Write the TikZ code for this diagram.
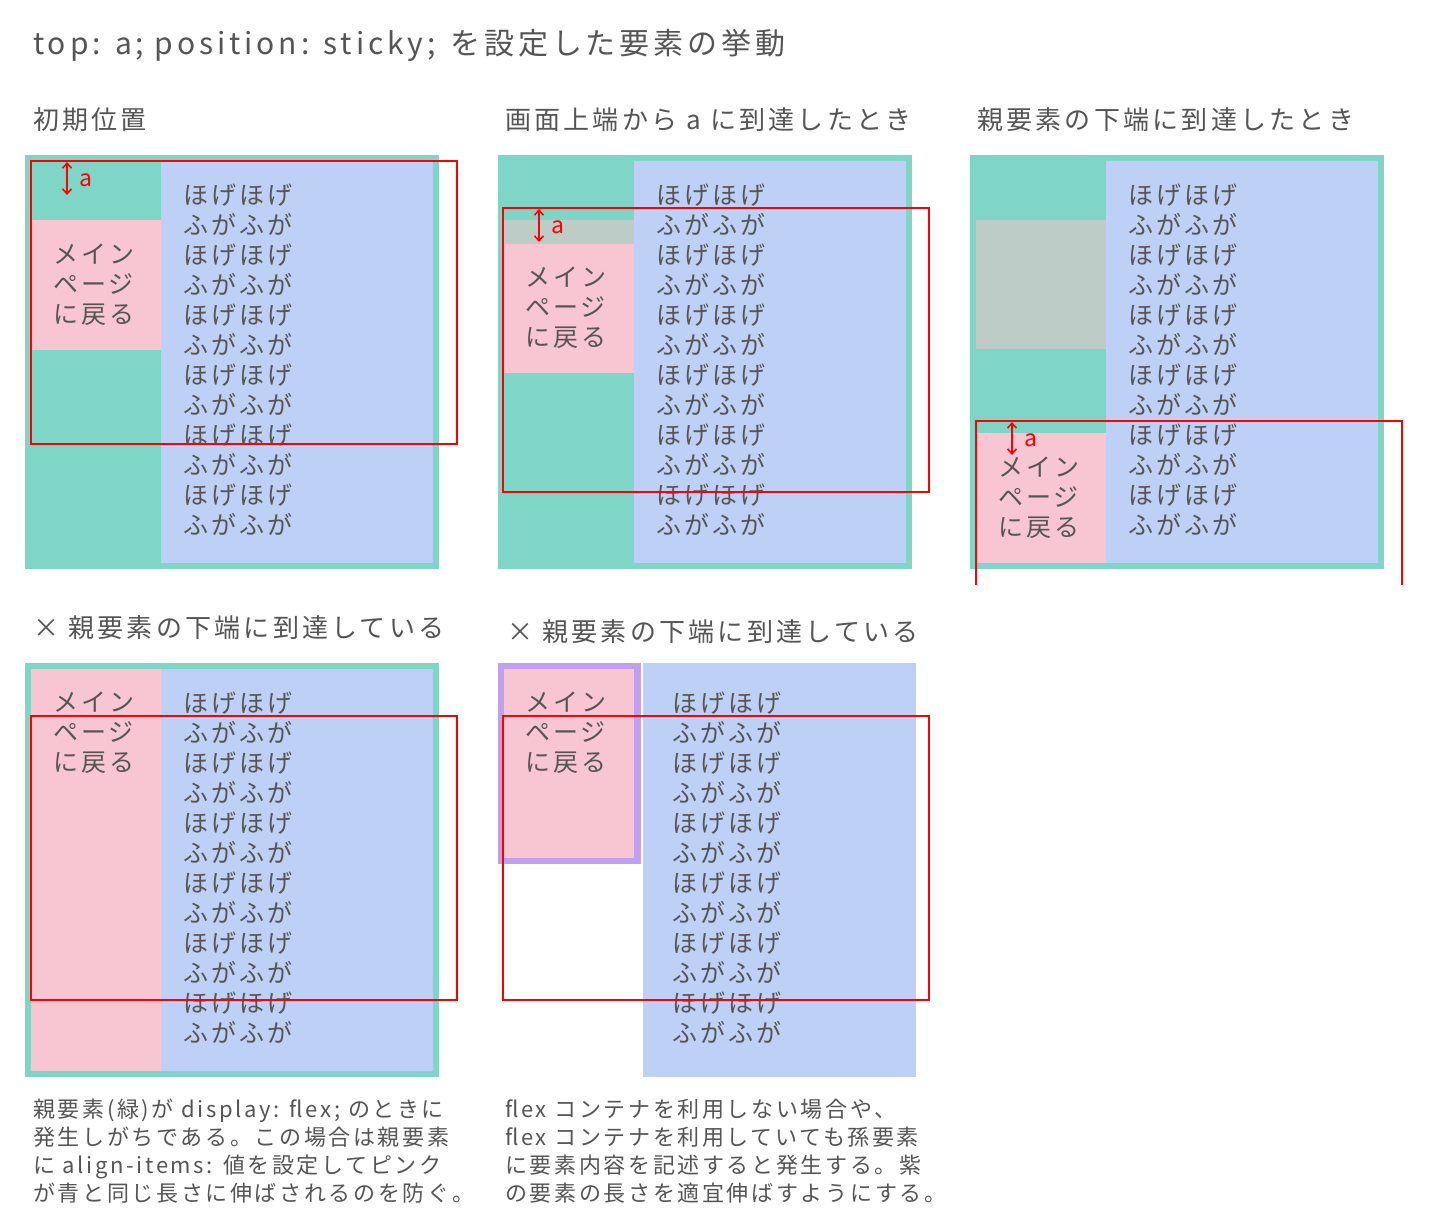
\documentclass[tikz,border=0pt]{standalone}
\usepackage{fontspec}
\setmainfont{Noto Sans CJK JP}
\newfontfamily\jpbody{Noto Sans CJK JP}[LetterSpace=12]
\newfontfamily\jphead{Noto Sans CJK JP}[LetterSpace=12.5]
\newfontfamily\jpnote{Noto Sans CJK JP}[LetterSpace=12]
\newfontfamily\jptitle{Noto Sans CJK JP}[LetterSpace=13]
\usetikzlibrary{arrows.meta}
\definecolor{pgreen}{HTML}{80D6C6}
\definecolor{pblue}{HTML}{BED0F5}
\definecolor{ppink}{HTML}{F8C6D3}
\definecolor{pgray}{HTML}{BECCC8}
\definecolor{ppurple}{HTML}{BFA0EC}
\definecolor{tgray}{HTML}{555555}
\definecolor{pred}{HTML}{FF0000}
\newcommand\hogelines{ほげほげ\\ふがふが\\ほげほげ\\ふがふが\\ほげほげ\\ふがふが\\ほげほげ\\ふがふが\\ほげほげ\\ふがふが\\ほげほげ\\ふがふが}
\newcommand\mainlines{メイン\\ページ\\に戻る}
\tikzset{
  txt/.style={text=tgray, inner sep=0pt, anchor=west, align=left},
  body/.style={txt, font={\jpbody\fontsize{25pt}{30pt}\selectfont}},
  head/.style={txt, font={\jphead\fontsize{26pt}{30pt}\selectfont}},
  titletext/.style={txt, font={\jptitle\fontsize{30pt}{34pt}\selectfont}},
  note/.style={txt, font={\jpnote\fontsize{22pt}{28pt}\selectfont}},
  redbox/.style={draw=pred, line width=2pt},
  redarrow/.style={draw=pred, line width=1.6pt, {Straight Barb[length=5pt,width=9pt]}-{Straight Barb[length=5pt,width=9pt]}},
  alabel/.style={text=pred, inner sep=0pt, anchor=west, font={\fontsize{23pt}{24pt}\selectfont}},
}
\begin{document}
\begin{tikzpicture}[x=1pt,y=-1pt]
\useasboundingbox (0,0) rectangle (1437,1224);
\fill[white] (0,0) rectangle (1437,1224);

% Title and headings
\node[titletext] (title) at (33,45) {top: a; position: sticky;\hspace{4pt} を設定した要素の挙動};
\node[head] (h1) at (33,120) {初期位置};
\node[head] (h2) at (505,120) {画面上端から a に到達したとき};
\node[head] (h3) at (977,120) {親要素の下端に到達したとき};
\node[head] (h4) at (33,628) {× 親要素の下端に到達している};
\node[head] (h5) at (507,632) {× 親要素の下端に到達している};

% Panel 1: initial position
\fill[pgreen] (25,155) rectangle (439,569);
\fill[pblue] (161,161) rectangle (433,563);
\fill[ppink] (31,220) rectangle (161,350);
\node[body] (p1) at (53,285) {\mainlines};
\node[body] (b1) at (183,360) {\hogelines};
\draw[redbox] (31,161) rectangle (457,444);
\coordinate (a1t) at (67,162);
\coordinate (a1b) at (67,195);
\draw[redarrow] (a1t) -- (a1b);
\node[alabel] (l1) at (79,180) {a};

% Panel 2: reached a from top of screen
\fill[pgreen] (498,155) rectangle (912,569);
\fill[pblue] (634,161) rectangle (906,563);
\fill[pgray] (504,220) rectangle (634,244);
\fill[ppink] (504,244) rectangle (634,373);
\node[body] (p2) at (525,308) {\mainlines};
\node[body] (b2) at (656,360) {\hogelines};
\draw[redbox] (503,208) rectangle (929,492);
\coordinate (a2t) at (539,209);
\coordinate (a2b) at (539,242);
\draw[redarrow] (a2t) -- (a2b);
\node[alabel] (l2) at (551,227) {a};

% Panel 3: reached bottom of parent
\fill[pgreen] (970,155) rectangle (1384,569);
\fill[pblue] (1106,161) rectangle (1378,563);
\fill[pgray] (976,220) rectangle (1106,349);
\fill[ppink] (976,433) rectangle (1106,563);
\node[body] (p3) at (998,498) {\mainlines};
\node[body] (b3) at (1128,360) {\hogelines};
\draw[redbox] (976,585) -- (976,421) -- (1402,421) -- (1402,585);
\coordinate (a3t) at (1012,422);
\coordinate (a3b) at (1012,455);
\draw[redarrow] (a3t) -- (a3b);
\node[alabel] (l3) at (1024,440) {a};

% Panel 4: bad case, stretched pink
\fill[pgreen] (25,663) rectangle (439,1077);
\fill[pblue] (161,669) rectangle (433,1071);
\fill[ppink] (31,669) rectangle (161,1071);
\node[body] (p4) at (53,733) {\mainlines};
\node[body] (b4) at (183,868) {\hogelines};
\draw[redbox] (31,716) rectangle (457,1000);

% Panel 5: bad case, purple wrapper
\fill[ppurple] (498,663) rectangle (641,864);
\fill[ppink] (504,669) rectangle (634,858);
\fill[pblue] (643,663) rectangle (916,1077);
\node[body] (p5) at (525,733) {\mainlines};
\node[body] (b5) at (672,868) {\hogelines};
\draw[redbox] (503,716) rectangle (929,1000);

% Notes
\node[note] (n1) at (33,1151) {親要素(緑)が display: flex; のときに\\発生しがちである。この場合は親要素\\に align-items: 値を設定してピンク\\が青と同じ長さに伸ばされるのを防ぐ。};
\node[note] (n2) at (505,1151) {flex コンテナを利用しない場合や、\\flex コンテナを利用していても孫要素\\に要素内容を記述すると発生する。紫\\の要素の長さを適宜伸ばすようにする。};
\end{tikzpicture}
\end{document}
